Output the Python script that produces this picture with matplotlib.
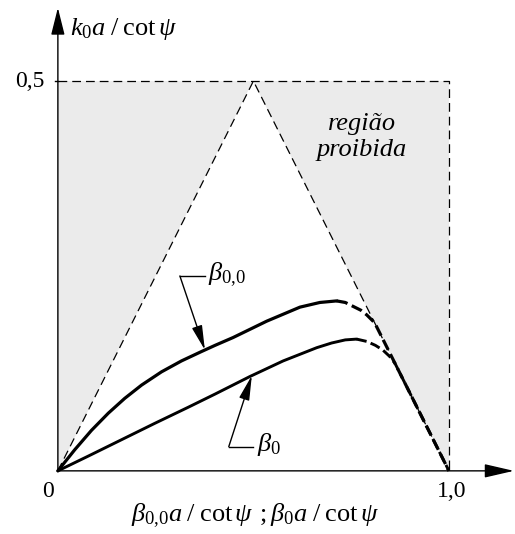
import numpy as np
import matplotlib
matplotlib.use("Agg")
import matplotlib.pyplot as plt
from matplotlib.patches import Polygon

plt.rcParams.update({
    "font.family": ["Liberation Serif", "DejaVu Serif"],
    "mathtext.fontset": "custom",
    "mathtext.rm": "Liberation Serif",
    "mathtext.it": "Liberation Serif:italic",
    "mathtext.bf": "Liberation Serif:bold",
})

# beta_{0,0}: solid part up to the maximum, then dashed down onto the light line
b00_x = [0.0, 0.043, 0.086, 0.129, 0.171, 0.214, 0.265, 0.316, 0.367,
         0.402, 0.448, 0.534, 0.619, 0.670, 0.713]
b00_y = [0.0, 0.027, 0.052, 0.074, 0.093, 0.110, 0.127, 0.141, 0.153,
         0.161, 0.171, 0.192, 0.210, 0.216, 0.218]
b00_dash_x = [0.713, 0.735, 0.755, 0.775, 0.790, 0.810, 0.90, 1.0]
b00_dash_y = [0.218, 0.216, 0.211, 0.206, 0.200, 0.190, 0.10, 0.0]

# beta_0
b0_x = [0.0, 0.078, 0.163, 0.248, 0.333, 0.402, 0.491, 0.576, 0.662,
        0.700, 0.735, 0.764]
b0_y = [0.0, 0.019, 0.040, 0.061, 0.0815, 0.0985, 0.121, 0.141, 0.158,
        0.164, 0.168, 0.169]
b0_dash_x = [0.764, 0.790, 0.812, 0.831, 0.848, 0.862, 0.93, 1.0]
b0_dash_y = [0.169, 0.166, 0.161, 0.155, 0.147, 0.138, 0.07, 0.0]

K_MAX = 0.5
X_MAX = 1.0

GRAY = "#ebebeb"

fig = plt.figure(figsize=(5.15, 5.34), dpi=100)
ax = fig.add_axes([0, 0, 1, 1])
ax.set_xlim(-0.148, 1.169)
ax.set_ylim(-0.081, 0.604)
ax.axis("off")

# forbidden region outside the light-line triangle
ax.add_patch(Polygon([(0, 0), (0, K_MAX), (X_MAX / 2, K_MAX)], closed=True,
                     facecolor=GRAY, edgecolor="none", zorder=0))
ax.add_patch(Polygon([(X_MAX / 2, K_MAX), (X_MAX, K_MAX), (X_MAX, 0)], closed=True,
                     facecolor=GRAY, edgecolor="none", zorder=0))

# light lines and box
dash_thin = dict(color="black", lw=0.9, dashes=(7, 4))
ax.plot([0, X_MAX / 2, X_MAX], [0, K_MAX, 0], **dash_thin, zorder=2)
ax.plot([0, X_MAX, X_MAX], [K_MAX, K_MAX, 0], **dash_thin, zorder=2)

# axes with arrow heads
ax.annotate("", xy=(1.166, 0), xytext=(0, 0),
            arrowprops=dict(arrowstyle="-|>,head_length=1.3,head_width=0.3",
                            mutation_scale=14, lw=1.0, color="black",
                            shrinkA=0, shrinkB=0), zorder=3)
ax.annotate("", xy=(0, 0.594), xytext=(0, 0),
            arrowprops=dict(arrowstyle="-|>,head_length=1.2,head_width=0.3",
                            mutation_scale=14, lw=1.0, color="black",
                            shrinkA=0, shrinkB=0), zorder=3)
ax.plot([-0.008, 0], [K_MAX, K_MAX], color="black", lw=1.0)

# dispersion curves
curve_kw = dict(color="black", solid_joinstyle="round", solid_capstyle="round", zorder=4)
ax.plot(b00_x, b00_y, lw=2.3, **curve_kw)
ax.plot(b00_dash_x, b00_dash_y, color="black", lw=2.3, dashes=(3.5, 1.5), zorder=4)
ax.plot(b0_x, b0_y, lw=2.1, **curve_kw)
ax.plot(b0_dash_x, b0_dash_y, color="black", lw=2.1, dashes=(3.5, 1.5), zorder=4)

# leader arrows
arrow_kw = dict(arrowstyle="-|>,head_length=0.75,head_width=0.16",
                mutation_scale=20, lw=1.0, color="black", shrinkA=0, shrinkB=0)

tip00 = 0.376
ax.plot([0.312, 0.376], [0.25, 0.25], color="black", lw=1.0)
ax.annotate("", xy=(tip00, np.interp(tip00, b00_x, b00_y)), xytext=(0.312, 0.25),
            arrowprops=arrow_kw)
ax.text(0.385, 0.252, r"$\beta_{0{,}0}$", fontsize=19, ha="left", va="center")

tip0 = 0.496
ax.plot([0.437, 0.499], [0.031, 0.031], color="black", lw=1.0)
ax.annotate("", xy=(tip0, np.interp(tip0, b0_x, b0_y)), xytext=(0.437, 0.031),
            arrowprops=arrow_kw)
ax.text(0.508, 0.034, r"$\beta_0$", fontsize=19, ha="left", va="center")

# tick labels
ax.text(-0.033, K_MAX, "0,5", fontsize=17, ha="right", va="center")
ax.text(-0.026, -0.026, "0", fontsize=17, ha="center", va="center")
ax.text(1.008, -0.026, "1,0", fontsize=17, ha="center", va="center")

# axis titles
ax.text(0.03, 0.567, r"$k_0a\;/\;\mathrm{cot}\,\psi$", fontsize=19,
        ha="left", va="center")
ax.text(0.505, -0.058,
        r"$\beta_{0{,}0}a\;/\;\mathrm{cot}\,\psi\;\,;\beta_0a\;/\;\mathrm{cot}\,\psi$",
        fontsize=19, ha="center", va="center")

ax.text(0.778, 0.428, "região\nproibida", fontsize=19, style="italic",
        ha="center", va="center", linespacing=1.25)

fig.savefig("out.png", dpi=100)
